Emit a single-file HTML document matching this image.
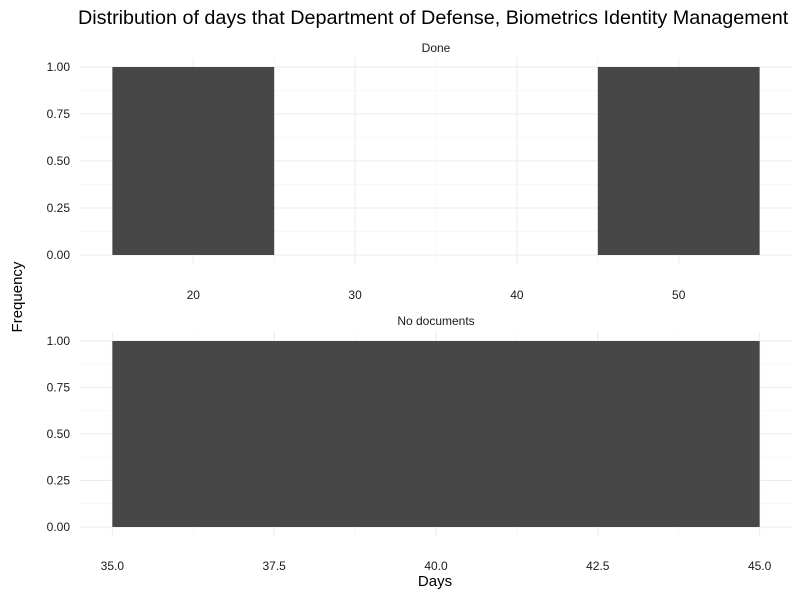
<!DOCTYPE html>
<html><head><meta charset="utf-8"><style>
body{margin:0;background:#fff;overflow:hidden;}
svg text{font-family:"Liberation Sans",Arial,sans-serif;}
</style></head><body>
<svg id="chart" width="800" height="600" xmlns="http://www.w3.org/2000/svg">
<text x="78" y="24" font-size="19.8" fill="#000">Distribution of days that Department of Defense, Biometrics Identity Management</text>
<text x="0" y="0" font-size="15" fill="#000" text-anchor="middle" transform="translate(22,297) rotate(-90)">Frequency</text>
<text x="435" y="586" font-size="15" fill="#000" text-anchor="middle">Days</text>
<g id="p1"></g>
<g id="p2"></g>
</svg>
<script>
const panel1Label = "Done";
const panel1BinStarts = [15, 45];
const panel1BinEnds = [25, 55];
const panel1Counts = [1, 1];
const panel1XTicks = [20, 30, 40, 50];
const panel1XTickLabels = ["20", "30", "40", "50"];
const panel2Label = "No documents";
const panel2BinStarts = [35];
const panel2BinEnds = [45];
const panel2Counts = [1];
const panel2XTicks = [35, 37.5, 40, 42.5, 45];
const panel2XTickLabels = ["35.0", "37.5", "40.0", "42.5", "45.0"];
const yTicks = [0, 0.25, 0.5, 0.75, 1];
const yTickLabels = ["0.00", "0.25", "0.50", "0.75", "1.00"];
const NS = "http://www.w3.org/2000/svg";
function mk(g, tag, attrs){const e=document.createElementNS(NS,tag);for(const k in attrs)e.setAttribute(k,attrs[k]);g.appendChild(e);return e;}
function drawPanel(gid, label, starts, ends, counts, xt, xtl, top, bottom, labelY, tickY){
  const g=document.getElementById(gid);
  const L=80,R=792;
  const lo=Math.min(...starts), hi=Math.max(...ends), pad=(hi-lo)*0.05;
  const x0=lo-pad, x1=hi+pad;
  const ymax=Math.max(...counts);
  const y0=-0.05*ymax, y1=ymax*1.05;
  const X=v=>L+(v-x0)/(x1-x0)*(R-L);
  const Y=v=>bottom-(v-y0)/(y1-y0)*(bottom-top);
  const s=mk(g,'text',{x:(L+R)/2,y:labelY,'font-size':12,'text-anchor':'middle',fill:'#1a1a1a'});
  s.textContent=label;
  
  
  for(let i=0;i<xt.length-1;i++){const m=(xt[i]+xt[i+1])/2;
    const l=mk(g,'line',{x1:X(m),x2:X(m),y1:top,y2:bottom,stroke:'#f2f2f2','stroke-width':0.6});
    }
  for(let i=0;i<yTicks.length-1;i++){const m=(yTicks[i]+yTicks[i+1])/2;
    const l=mk(g,'line',{x1:L,x2:R,y1:Y(m),y2:Y(m),stroke:'#f2f2f2','stroke-width':0.6});
    }
  xt.forEach((v,i)=>{
    const l=mk(g,'line',{x1:X(v),x2:X(v),y1:top,y2:bottom,stroke:'#ebebeb','stroke-width':1});
    
    const t=mk(g,'text',{x:X(v),y:tickY,'font-size':12,'text-anchor':'middle',fill:'#1a1a1a'});
    t.textContent=xtl[i];
    
  });
  yTicks.forEach((v,i)=>{
    const l=mk(g,'line',{x1:L,x2:R,y1:Y(v),y2:Y(v),stroke:'#ebebeb','stroke-width':1});
    
    const t=mk(g,'text',{x:70,y:Y(v)+4,'font-size':12,'text-anchor':'end',fill:'#1a1a1a'});
    t.textContent=yTickLabels[i];
    
  });
  starts.forEach((s0,i)=>{
    const r=mk(g,'rect',{x:X(s0),y:Y(counts[i]),width:X(ends[i])-X(s0),height:Y(0)-Y(counts[i]),fill:'#474747'});
    
  });
}
drawPanel('p1',panel1Label,panel1BinStarts,panel1BinEnds,panel1Counts,panel1XTicks,panel1XTickLabels,57.6,264.4,52,299);
drawPanel('p2',panel2Label,panel2BinStarts,panel2BinEnds,panel2Counts,panel2XTicks,panel2XTickLabels,331.7,536.3,325,570);
</script>
</body></html>
